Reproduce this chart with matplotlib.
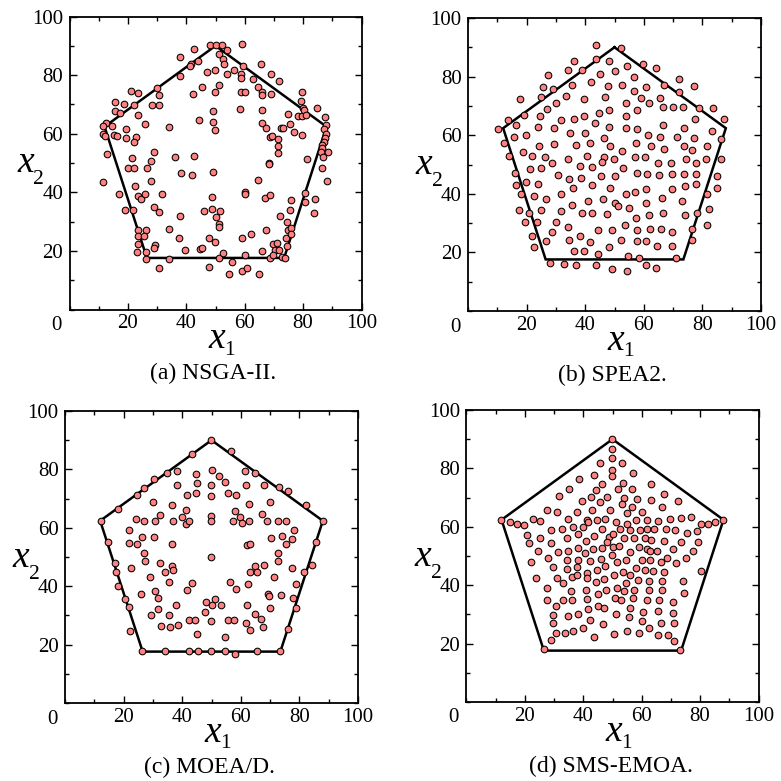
import matplotlib
matplotlib.use('Agg')
import matplotlib.pyplot as plt
from matplotlib.ticker import MultipleLocator

# ---------------- data ----------------
pent_x = [50, 88.0, 73.5, 26.5, 12.0, 50]
pent_y = [90, 62.4, 17.6, 17.6, 62.4, 90]

tick_vals = [20, 40, 60, 80, 100]
tick_labels = ['20', '40', '60', '80', '100']

captions = ['(a) NSGA-II.', '(b) SPEA2.', '(c) MOEA/D.', '(d) SMS-EMOA.']

nsga_pts = [
    (48.0,90.3),(50.0,90.3),(52.1,90.3),(59.2,90.6),(42.7,88.9),(54.0,88.6),(51.1,87.2),(52.5,85.6),
    (52.8,83.8),(37.7,86.1),(44.0,84.8),(41.5,83.8),(41.1,83.0),(49.9,81.7),(47.2,80.9),(56.2,81.7),
    (53.9,80.4),(59.4,83.0),(58.6,80.4),(58.8,79.0),(65.6,83.9),(69.1,80.4),(71.6,78.1),(62.9,78.8),
    (64.4,75.9),(65.9,74.1),(65.9,73.3),(37.7,79.6),(45.3,76.1),(51.3,76.7),(49.7,74.1),(42.4,73.6),
    (30.0,75.7),(30.6,73.2),(21.2,74.7),(23.5,74.0),(15.6,70.9),(18.7,70.1),(15.7,67.8),(17.3,66.9),
    (22.2,69.8),(28.4,69.8),(30.8,69.8),(23.3,66.4),(25.9,63.2),(12.6,63.8),(11.6,62.7),(14.6,62.7),
    (11.4,59.9),(12.2,59.2),(15.4,59.6),(16.1,59.2),(19.3,61.6),(19.4,58.7),(22.9,59.0),(22.1,57.1),
    (34.2,62.2),(49.1,67.9),(58.5,68.4),(65.9,68.2),(44.5,64.7),(49.2,63.9),(49.9,61.4),(66.0,63.5),
    (67.4,61.9),(68.5,59.0),(69.3,59.2),(71.4,58.2),(72.4,61.9),(73.1,61.9),(74.7,66.7),(75.6,63.2),
    (77.0,60.5),(78.3,66.2),(79.6,65.9),(79.6,59.4),(79.6,74.1),(79.4,71.3),(80.0,68.7),(80.2,68.2),
    (81.0,66.4),(84.6,68.7),(87.4,65.6),(87.9,62.8),(87.2,61.5),(87.9,59.8),(87.4,58.7),(87.0,57.3),
    (86.5,56.2),(86.5,55.0),(86.2,53.7),(88.6,53.9),(86.7,52.2),(81.2,51.4),(71.4,55.9),(71.4,53.5),
    (68.2,50.1),(68.2,49.7),(12.8,53.0),(21.3,51.8),(28.9,53.9),(27.9,50.8),(36.2,51.9),(42.5,52.5),
    (19.9,48.2),(22.2,48.2),(26.5,48.2),(58.6,74.4),(60.1,74.1),(69.1,73.6),
    (11.6,43.6),(17.1,39.4),(22.5,42.1),(23.4,38.7),(24.5,37.7),(25.7,39.3),(27.9,43.9),(31.6,39.4),
    (18.9,34.1),(21.7,34.1),(28.8,34.9),(30.7,33.3),(37.8,31.8),(38.3,46.5),(41.8,45.9),(49.2,46.8),
    (64.6,44.2),(66.8,38.2),(68.8,39.0),(60.1,40.0),(60.2,39.4),(48.8,38.5),(46.1,33.7),(48.8,34.2),
    (51.5,33.7),(50.3,31.4),(51.1,29.3),(51.1,28.2),(23.3,27.3),(26.1,27.3),(23.4,25.0),(25.4,25.0),
    (23.3,22.4),(23.2,19.6),(26.1,19.7),(26.2,17.4),(29.3,21.9),(29.1,21.1),(30.6,14.2),(34.0,27.6),
    (34.2,17.2),(37.5,24.4),(39.6,20.2),(44.7,20.8),(45.3,21.1),(47.7,24.5),(49.9,23.1),(47.9,14.6),
    (51.1,17.7),(52.5,19.3),(54.7,12.0),(55.6,16.3),(59.1,24.4),(62.1,25.6),(60.0,18.7),(59.1,13.1),
    (60.8,14.2),(65.0,12.0),(66.0,20.0),(67.3,27.1),(68.6,17.6),(72.2,31.8),(69.7,22.5),(71.1,22.7),
    (70.5,20.2),(71.9,20.2),(69.6,18.5),(72.8,17.9),(73.7,17.7),(74.5,29.9),(74.7,27.1),(74.3,24.5),
    (76.0,27.9),(75.9,25.7),(74.5,21.6),(75.6,34.1),(75.9,37.3),(80.6,39.6),(80.6,36.8),(84.2,37.6),
    (83.6,32.8),(86.5,48.2),(88.2,43.9),
]

spea2_pts = [
    (43.6,90.7),(52.3,89.9),(36.1,85.2),(43.6,85.9),(48.2,85.4),(59.8,84.2),(64.0,82.9),(34.1,82.3),
    (38.8,82.1),(44.9,81.0),(50.3,81.9),(54.3,83.6),(27.3,80.4),(56.8,79.8),(72.0,79.2),(25.6,76.3),
    (28.9,75.6),(35.5,77.0),(41.9,78.1),(47.7,76.7),(52.4,77.3),(56.7,75.2),(60.6,76.3),(66.9,77.3),
    (72.0,74.7),(77.1,76.7),(17.6,72.4),(25.0,73.0),(33.6,73.3),(39.7,72.4),(46.9,73.0),(58.9,72.6),
    (65.5,72.8),(27.1,68.9),(30.1,71.0),(53.9,71.0),(57.8,68.7),(61.9,71.0),(66.7,69.5),(70.0,69.7),
    (73.4,69.7),(78.7,69.3),(83.7,69.3),(13.5,65.3),(19.1,66.9),(24.6,66.6),(31.7,65.2),(36.2,65.5),
    (39.6,66.7),(44.7,67.5),(48.2,68.7),(54.0,66.4),(77.4,65.5),(87.4,65.5),(10.1,62.1),(16.5,63.6),
    (23.9,62.7),(29.4,62.3),(43.2,64.0),(48.2,62.8),(53.9,62.3),(57.8,62.1),(66.7,63.5),(73.8,62.4),
    (83.4,61.5),(15.8,59.5),(19.9,60.0),(34.7,60.6),(39.9,60.6),(46.4,59.2),(61.4,60.0),(65.5,59.5),
    (71.2,59.5),(77.1,59.2),(86.3,58.7),(12.3,57.2),(24.2,56.4),(29.4,56.9),(36.7,56.6),(41.8,57.5),
    (48.5,56.4),(57.2,57.2),(62.6,56.4),(66.9,55.2),(73.8,56.4),(76.3,55.0),(81.4,56.4),(14.0,52.9),
    (18.8,54.3),(21.7,52.9),(26.2,52.7),(34.0,52.0),(40.5,52.9),(46.4,52.7),(52.7,54.7),(57.0,52.6),
    (60.4,52.7),(74.3,51.8),(77.7,50.4),(81.1,51.8),(86.3,51.8),(21.2,48.6),(25.0,48.9),(28.6,50.4),
    (38.1,49.5),(42.2,49.3),(45.9,50.7),(49.8,51.8),(53.0,48.9),(65.0,50.4),(69.4,50.4),
    (16.0,47.0),(16.3,42.9),(19.7,44.0),(24.0,43.2),(30.7,46.4),(34.5,44.9),(35.9,41.9),(38.7,45.5),
    (42.4,42.9),(45.5,46.1),(50.1,46.1),(57.8,47.2),(61.2,46.7),(65.2,46.4),(69.7,46.7),(73.8,46.7),
    (77.8,46.9),(77.9,43.2),(74.0,42.7),(85.1,46.1),(85.1,42.1),(69.7,41.5),(60.6,41.7),(53.9,40.1),
    (57.0,40.7),(48.5,41.9),(18.0,40.0),(22.5,39.2),(26.5,38.1),(31.9,40.0),(40.9,37.7),(46.1,38.1),
    (50.2,36.9),(51.2,35.8),(55.1,35.2),(60.6,36.9),(66.3,38.7),(73.2,37.5),(81.5,40.0),(82.3,34.9),
    (17.4,34.4),(20.8,33.5),(24.9,34.4),(31.9,34.1),(35.6,36.1),(38.8,33.5),(42.4,33.3),(47.4,33.2),
    (57.3,31.8),(61.8,32.7),(66.4,33.3),(74.0,32.9),(78.3,33.3),(19.6,30.3),(23.5,30.3),(29.9,30.3),
    (34.2,28.6),(44.4,27.8),(49.2,27.8),(53.5,29.3),(57.7,27.8),(62.1,28.0),(65.9,28.0),(69.7,26.9),
    (76.3,28.0),(81.4,29.5),(22.0,25.7),(28.8,26.9),(26.5,24.0),(34.5,24.1),(38.1,25.7),(41.6,23.4),
    (52.1,24.4),(57.6,23.8),(60.6,23.8),(64.6,22.1),(69.7,22.3),(76.3,24.1),(22.5,21.7),(36.2,20.4),
    (39.5,20.4),(48.2,21.7),(44.3,19.4),(54.7,18.9),(58.4,18.1),(70.9,18.1),(28.1,16.4),(32.6,16.1),
    (37.0,15.8),(43.8,15.8),(49.0,14.3),(54.2,13.6),(60.8,15.8),(64.3,14.6),
]

moead_pts = [
    (49.9,90.2),(43.3,85.4),(56.8,86.2),(38.3,79.5),(34.8,78.7),(50.0,79.7),(44.8,78.5),(52.4,77.6),
    (54.5,75.7),(61.3,79.5),(65.0,78.9),(30.3,76.8),(26.8,73.7),(24.6,71.4),(18.1,66.6),(38.2,74.7),
    (45.2,75.5),(49.9,74.7),(61.7,74.7),(68.0,74.7),(73.2,74.1),(76.0,72.6),(82.1,67.7),(88.0,62.4),
    (41.8,71.1),(44.6,71.8),(49.9,70.9),(55.6,72.0),(58.2,71.2),(30.0,68.7),(36.6,67.9),(41.3,66.2),
    (62.9,68.0),(69.9,68.8),(58.1,65.9),(32.4,64.3),(39.9,63.7),(49.9,64.2),(59.8,63.7),(67.4,64.7),
    (24.3,62.9),(27.0,62.5),(30.7,62.5),(37.0,62.4),(41.3,61.3),(42.4,62.5),(49.9,62.5),(57.5,62.5),
    (60.4,61.6),(62.7,62.2),(69.1,62.3),(72.8,62.3),(75.4,62.2),(12.2,62.4),(21.9,59.2),(78.3,59.2),
    (21.8,54.7),(24.6,54.4),(26.3,56.9),(30.3,56.9),(36.5,54.4),(62.2,54.2),(63.2,54.5),(70.2,56.6),
    (74.0,57.1),(75.4,54.4),(77.4,56.0),(14.8,55.3),(85.7,55.1),(27.1,51.5),(49.9,50.1),(72.7,51.4),
    (17.1,48.0),(27.4,48.8),(32.5,47.8),(36.5,46.9),(64.7,46.9),(67.8,47.4),(72.7,48.8),(84.3,47.3),
    (17.3,44.7),(18.2,39.9),(22.4,46.2),(20.5,35.7),(21.9,32.8),(22.3,24.6),(26.0,37.3),(28.9,43.3),
    (30.8,38.2),(31.9,35.9),(31.7,32.2),(29.2,30.2),(34.2,45.0),(37.0,45.4),(35.6,41.6),(32.6,26.3),
    (35.6,30.2),(36.0,26.1),(37.8,33.4),(38.7,26.7),(41.7,38.7),(43.3,41.0),(42.2,28.3),(44.4,28.3),
    (45.0,23.5),(47.9,31.3),(48.2,34.7),(50.0,33.6),(51.3,35.7),(49.9,28.1),(53.4,33.4),(54.7,22.7),
    (56.2,41.4),(58.5,38.9),(55.5,28.3),(57.8,28.3),(62.0,33.4),(62.5,40.7),(61.8,27.5),(63.3,25.0),
    (63.3,45.0),(65.6,45.0),(65.0,30.4),(66.9,28.7),(67.5,26.1),(69.3,37.3),(69.5,36.5),(69.9,32.5),
    (71.2,43.3),(73.8,37.0),(77.5,46.4),(78.9,40.7),(77.8,35.9),(78.7,32.5),(81.6,44.8),(76.0,25.4),
    (26.2,17.8),(34.2,17.8),(42.2,17.8),(45.4,17.8),(49.9,17.8),(54.7,17.8),(65.6,17.8),(73.5,17.8),
    (57.9,16.8),
]

smsemoa_pts = [
    (49.9,90.2),(49.9,86.6),(49.9,83.7),(45.8,82.0),(53.3,81.9),(49.9,79.4),(49.9,77.5),(43.7,77.6),
    (56.9,78.3),(38.6,76.5),(63.1,74.8),(46.4,74.5),(44.3,72.5),(53.7,75.1),(51.8,72.8),(56.8,72.8),
    (35.1,72.8),(67.6,71.3),(31.6,70.4),(42.5,70.2),(48.0,70.2),(53.9,69.9),(58.5,69.4),(63.1,69.1),
    (39.4,68.7),(45.6,68.4),(53.1,67.8),(56.8,66.7),(72.3,68.7),(27.5,65.9),(30.9,64.9),(37.7,65.0),
    (42.9,65.9),(49.1,65.7),(54.8,64.6),(60.2,65.2),(67.1,66.7),(11.7,62.5),(22.9,62.6),(25.2,62.1),
    (34.9,62.8),(41.4,62.5),(44.6,62.5),(47.6,62.6),(58.0,62.3),(61.7,62.3),(65.5,61.9),(69.7,62.8),
    (73.3,63.0),(76.8,63.4),(88.0,62.5),(14.9,61.5),(17.4,60.8),(19.7,60.6),(80.3,60.8),(82.6,60.8),
    (85.1,61.5),(20.6,57.3),(29.0,59.0),(32.8,59.4),(36.6,60.0),(40.0,60.0),(41.7,61.5),(46.4,59.4),
    (51.1,61.5),(52.6,59.4),(54.8,60.8),(56.0,59.0),(59.4,58.8),(61.9,59.4),(64.2,59.2),(68.3,59.4),
    (71.5,59.0),(75.4,58.0),(79.0,58.4),(21.3,54.3),(25.2,56.2),(29.0,54.3),(34.5,56.0),(38.1,57.5),
    (41.0,55.1),(43.8,56.9),(48.8,56.5),(50.0,57.5),(53.9,56.0),(57.4,56.2),(61.1,56.3),(63.3,55.6),
    (67.6,55.1),(73.3,54.8),(79.4,54.8),(24.4,51.7),(27.8,49.3),(31.5,51.4),(34.9,51.7),(38.1,52.7),
    (40.6,51.1),(43.4,52.3),(46.4,52.9),(48.0,54.8),(50.0,53.1),(52.2,53.5),(49.9,50.2),(56.0,51.4),
    (59.1,53.1),(61.7,52.3),(62.8,51.6),(65.3,51.7),(70.8,52.3),(77.7,51.7),(75.2,49.3),(22.1,47.9),
    (29.6,46.3),(34.3,48.5),(38.1,48.5),(42.3,48.3),(46.1,49.1),(51.4,47.9),(54.5,48.5),(60.0,48.8),
    (62.8,48.5),(66.5,47.9),(68.5,49.3),(71.8,47.6),
    (23.8,42.3),(27.7,38.9),(27.5,35.1),(30.9,42.6),(30.7,32.8),(29.5,29.7),(29.7,27.2),(30.5,23.7),
    (28.8,21.2),(26.7,18.1),(32.9,40.6),(32.9,35.1),(34.3,45.7),(34.6,29.4),(33.7,23.8),(36.0,42.9),
    (35.7,37.9),(36.3,35.1),(37.9,43.6),(37.9,46.1),(38.3,30.3),(36.6,24.2),(41.3,44.2),(41.3,42.3),
    (41.0,38.5),(41.4,35.4),(41.7,31.9),(42.3,28.2),(39.8,25.4),(44.6,45.1),(44.2,41.1),(44.9,37.1),
    (44.9,32.9),(43.8,22.1),(47.4,46.6),(47.1,42.1),(47.8,38.3),(47.2,32.3),(46.9,26.6),(50.4,43.4),
    (51.4,39.2),(50.9,35.7),(51.2,30.1),(50.6,23.2),(53.7,44.6),(54.5,40.9),(53.9,37.9),(53.0,34.9),
    (54.9,24.2),(56.0,43.4),(57.9,46.0),(56.9,35.7),(56.0,32.3),(55.8,29.2),(57.5,38.5),(58.6,41.7),
    (59.2,23.6),(61.1,45.1),(62.5,41.4),(62.4,38.3),(61.7,34.8),(60.6,30.8),(60.2,27.8),(62.5,25.4),
    (64.0,44.9),(66.0,34.8),(65.7,31.1),(66.5,27.1),(65.7,22.9),(67.5,44.5),(67.1,41.5),(67.0,38.3),
    (69.1,23.1),(70.8,34.3),(70.8,30.6),(71.1,26.9),(71.2,20.8),(73.1,17.7),(74.0,41.3),(74.6,37.3),
    (80.2,44.9),
]

all_pts = [nsga_pts, spea2_pts, moead_pts, smsemoa_pts]

# ---------------- layout (pixel boxes: left, top, right, bottom) ----------------
W = 781.0
boxes = [(69.5, 16.5, 361.5, 309.5),
         (468.0, 18.0, 761.0, 311.0),
         (65.0, 411.0, 358.0, 703.0),
         (466.5, 410.0, 758.5, 702.0)]

SERIF = 'Liberation Serif'
plt.rcParams['font.family'] = [SERIF, 'DejaVu Serif']

fig = plt.figure(figsize=(7.81, 7.81), dpi=100)


def ftxt(px, py, s, **kw):
    fig.text(px / W, 1 - py / W, s, **kw)


for pts, cap, (L, T, R, B) in zip(all_pts, captions, boxes):
    ax = fig.add_axes([L / W, 1 - B / W, (R - L) / W, (B - T) / W])
    xs = [p[0] for p in pts]
    ys = [p[1] for p in pts]
    ax.plot(pent_x, pent_y, color='black', lw=1.8, zorder=2, solid_joinstyle='miter')
    ax.scatter(xs, ys, s=23, c='#ff8080', edgecolors='black', linewidths=0.75,
               zorder=3, clip_on=False)
    ax.set_xlim(0, 100)
    ax.set_ylim(0, 100)
    ax.set_xticks(tick_vals)
    ax.set_xticklabels(tick_labels)
    ax.set_yticks(tick_vals)
    ax.set_yticklabels(tick_labels)
    ax.xaxis.set_minor_locator(MultipleLocator(10))
    ax.yaxis.set_minor_locator(MultipleLocator(10))
    ax.tick_params(which='both', direction='in', top=True, right=True, width=1.0,
                   labelsize=15, colors='black')
    ax.tick_params(which='major', length=4.7)
    ax.tick_params(which='minor', length=3.1)
    ax.tick_params(axis='x', pad=3.5)
    ax.tick_params(axis='y', pad=4.5)
    for sp in ax.spines.values():
        sp.set_linewidth(1.3)

    cx = (L + R) / 2
    # corner zero
    ftxt(L - 12.6, B + 16, '0', ha='center', va='center', fontsize=15, family=SERIF)
    # x1 label
    ftxt(cx + 1, B + 39, 'x', ha='center', va='baseline', fontsize=27,
         family=SERIF, style='italic')
    ftxt(cx + 9, B + 45.5, '1', ha='left', va='baseline', fontsize=15.5, family=SERIF)
    # x2 label
    ftxt(L - 44, T + 156, 'x', ha='center', va='baseline', fontsize=27,
         family=SERIF, style='italic')
    ftxt(L - 36, T + 168, '2', ha='left', va='baseline', fontsize=15.5, family=SERIF)
    # caption
    ftxt(cx - 2, B + 64, cap, ha='center', va='center', fontsize=17, family=SERIF)

fig.savefig('out.png', dpi=100)
